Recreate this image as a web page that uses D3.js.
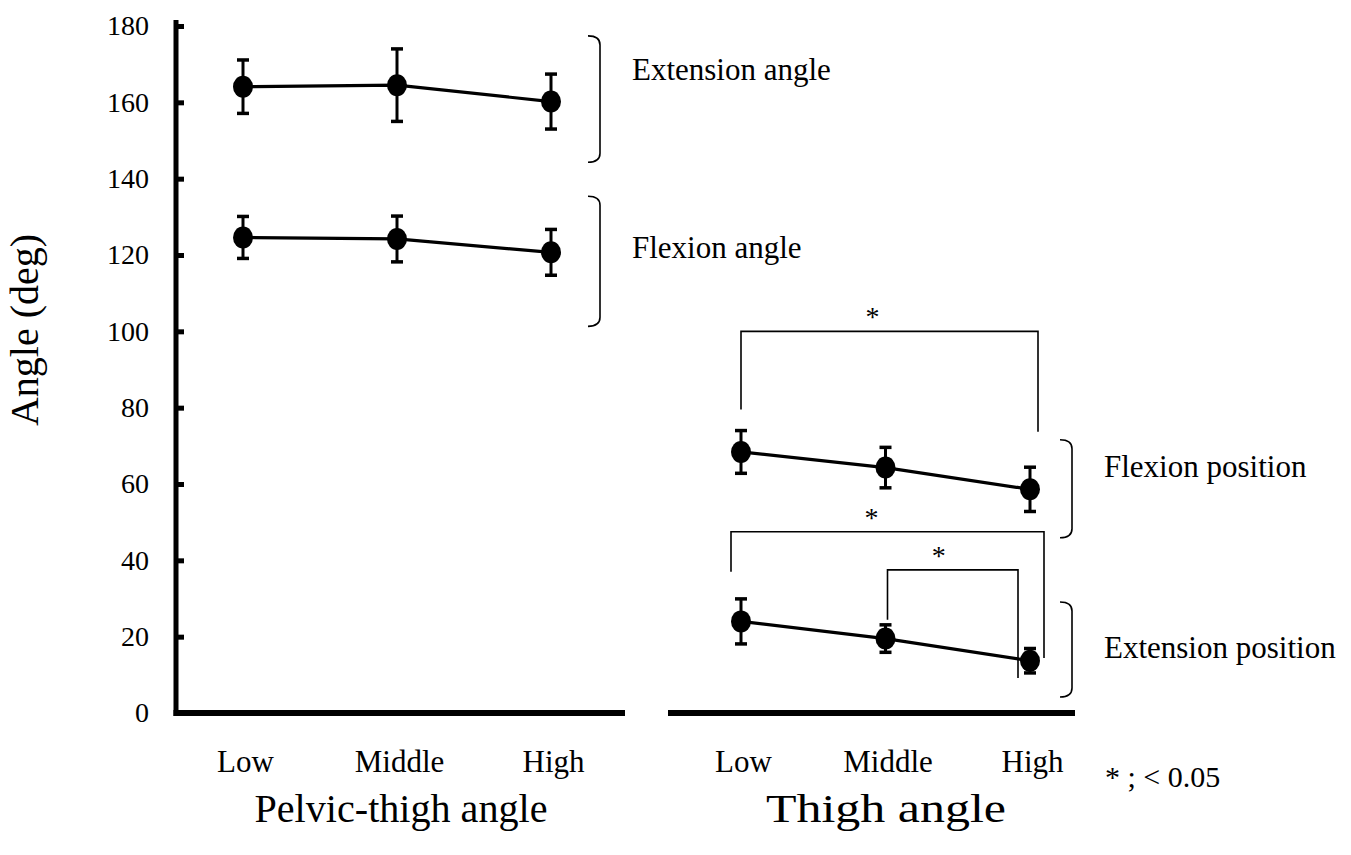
<!DOCTYPE html>
<html>
<head>
<meta charset="utf-8">
<script src="https://cdn.jsdelivr.net/npm/d3@7"></script>
<style>
  html, body { margin: 0; padding: 0; background: #fff; }
  svg { display: block; }
  text { font-family: "Liberation Serif", "Times New Roman", serif; fill: #000; }
</style>
</head>
<body>
<svg id="chart" width="1351" height="855"></svg>
<script>
// ---------------- data ----------------
const categories = ["Low", "Middle", "High"];
const yTicks = [0, 20, 40, 60, 80, 100, 120, 140, 160, 180];

// Pelvic-thigh angle panel
const extensionAngleMean = [164.1, 164.5, 160.2];
const extensionAngleSD   = [7.0, 9.5, 7.2];
const flexionAngleMean   = [124.6, 124.2, 120.7];
const flexionAngleSD     = [5.5, 6.0, 6.0];

// Thigh angle panel
const flexionPositionMean   = [68.4, 64.3, 58.6];
const flexionPositionSD     = [5.6, 5.3, 5.8];
const extensionPositionMean = [24.0, 19.5, 13.7];
const extensionPositionSD   = [5.9, 3.6, 3.2];

// significance brackets (thigh angle panel): categories, bar height, leg end values
const sigFrom    = ["Low", "Low", "Middle"];
const sigTo      = ["High", "High", "High"];
const sigLevel   = [100, 47.5, 37.5];
const sigFromEnd = [79.5, 37, 24.4];
const sigToEnd   = [73.7, 14.4, 9.2];

// group braces and labels
const braceLabels = ["Extension angle", "Flexion angle", "Flexion position", "Extension position"];
const braceTop    = [177.4, 135.4, 71.6, 29.1];
const braceBottom = [144.3, 101.3, 45.9, 4.2];
const braceLabelY = [165.8, 119.2, 61.8, 14.4];

// ---------------- layout ----------------
const svg = d3.select("#chart");
const y = d3.scaleLinear().domain([0, 180]).range([713, 26]);
const xLeft = d3.scalePoint().domain(categories).range([243, 551]);
const xRight = d3.scalePoint().domain(categories).range([741, 1030]);

// ---------------- axes ----------------
const yAxis = d3.axisLeft(y).tickValues(yTicks).tickSize(-8).tickPadding(27).tickSizeOuter(0);
const yg = svg.append("g").attr("transform", "translate(176,0)").call(yAxis);
yg.select(".domain").remove();
yg.selectAll(".tick line").attr("stroke", "#000").attr("stroke-width", 5);
yg.selectAll(".tick text")
  .attr("font-family", "Liberation Serif, serif").attr("font-size", 28).attr("fill", "#000");

svg.append("line").attr("x1", 176).attr("x2", 176).attr("y1", y(180) - 6).attr("y2", y(0) + 3)
  .attr("stroke", "#000").attr("stroke-width", 5);

function bottomAxis(xs, x0, x1) {
  svg.append("line").attr("x1", x0).attr("x2", x1).attr("y1", y(0)).attr("y2", y(0))
    .attr("stroke", "#000").attr("stroke-width", 6);
  const ax = d3.axisBottom(xs).tickSize(0).tickPadding(0);
  const g = svg.append("g").attr("transform", `translate(0,${y(0)})`).call(ax);
  g.select(".domain").remove();
  g.selectAll(".tick text")
    .attr("dy", null).attr("y", 59).attr("x", 2)
    .attr("font-family", "Liberation Serif, serif").attr("font-size", 31).attr("fill", "#000");
}
bottomAxis(xLeft, 173.5, 625);
bottomAxis(xRight, 668, 1075);

// ---------------- series ----------------
function series(xs, mean, sd) {
  const g = svg.append("g");
  const pts = categories.map((c, i) => ({ c, m: mean[i], s: sd[i] }));
  g.append("path").datum(pts)
    .attr("d", d3.line().x(d => xs(d.c)).y(d => y(d.m)))
    .attr("fill", "none").attr("stroke", "#000").attr("stroke-width", 3.2);
  const eb = g.selectAll(".eb").data(pts).enter().append("g");
  eb.append("line").attr("x1", d => xs(d.c)).attr("x2", d => xs(d.c))
    .attr("y1", d => y(d.m + d.s)).attr("y2", d => y(d.m - d.s))
    .attr("stroke", "#000").attr("stroke-width", 3);
  [1, -1].forEach(k => {
    eb.append("line").attr("x1", d => xs(d.c) - 6).attr("x2", d => xs(d.c) + 6)
      .attr("y1", d => y(d.m + k * d.s)).attr("y2", d => y(d.m + k * d.s))
      .attr("stroke", "#000").attr("stroke-width", 3.5);
  });
  eb.append("ellipse").attr("cx", d => xs(d.c)).attr("cy", d => y(d.m))
    .attr("rx", 10).attr("ry", 11).attr("fill", "#000");
}
series(xLeft, extensionAngleMean, extensionAngleSD);
series(xLeft, flexionAngleMean, flexionAngleSD);
series(xRight, flexionPositionMean, flexionPositionSD);
series(xRight, extensionPositionMean, extensionPositionSD);

// ---------------- braces ----------------
const braceX = [600, 600, 1072, 1072];
braceLabels.forEach((lab, i) => {
  const x = braceX[i], t = y(braceTop[i]), b = y(braceBottom[i]);
  const r = 9;
  svg.append("path")
    .attr("d", `M${x - r - 3},${t} Q${x},${t} ${x},${t + r} L${x},${b - r} Q${x},${b} ${x - r - 3},${b}`)
    .attr("fill", "none").attr("stroke", "#000").attr("stroke-width", 1.6);
  svg.append("text").attr("x", x + 32).attr("y", y(braceLabelY[i]))
    .attr("font-size", 31).text(lab);
});

// ---------------- significance brackets ----------------
const fromDx = [0, -10, 2];
const toDx = [8, 14, -12];
const starDx = [-17, -16, -14];
sigLevel.forEach((lv, i) => {
  const xa = xRight(sigFrom[i]) + fromDx[i];
  const xb = xRight(sigTo[i]) + toDx[i];
  svg.append("path")
    .attr("d", `M${xa},${y(sigFromEnd[i])} L${xa},${y(lv)} L${xb},${y(lv)} L${xb},${y(sigToEnd[i])}`)
    .attr("fill", "none").attr("stroke", "#000").attr("stroke-width", 1.6);
  svg.append("text").attr("x", (xa + xb) / 2 + starDx[i]).attr("y", y(lv) - 5)
    .attr("text-anchor", "middle").attr("font-size", 28).text("*");
});

// ---------------- titles ----------------
svg.append("text").attr("x", 401).attr("y", 822).attr("text-anchor", "middle")
  .attr("font-size", 40).attr("textLength", 293).attr("lengthAdjust", "spacingAndGlyphs")
  .text("Pelvic-thigh angle");
svg.append("text").attr("x", 886).attr("y", 822).attr("text-anchor", "middle")
  .attr("font-size", 40).attr("textLength", 240).attr("lengthAdjust", "spacingAndGlyphs")
  .text("Thigh angle");
svg.append("text").attr("x", 1105).attr("y", 787).attr("font-size", 30).text("* ; < 0.05");

svg.append("text")
  .attr("transform", "translate(38,330) rotate(-90)")
  .attr("text-anchor", "middle").attr("font-size", 40).text("Angle (deg)");
</script>
</body>
</html>
